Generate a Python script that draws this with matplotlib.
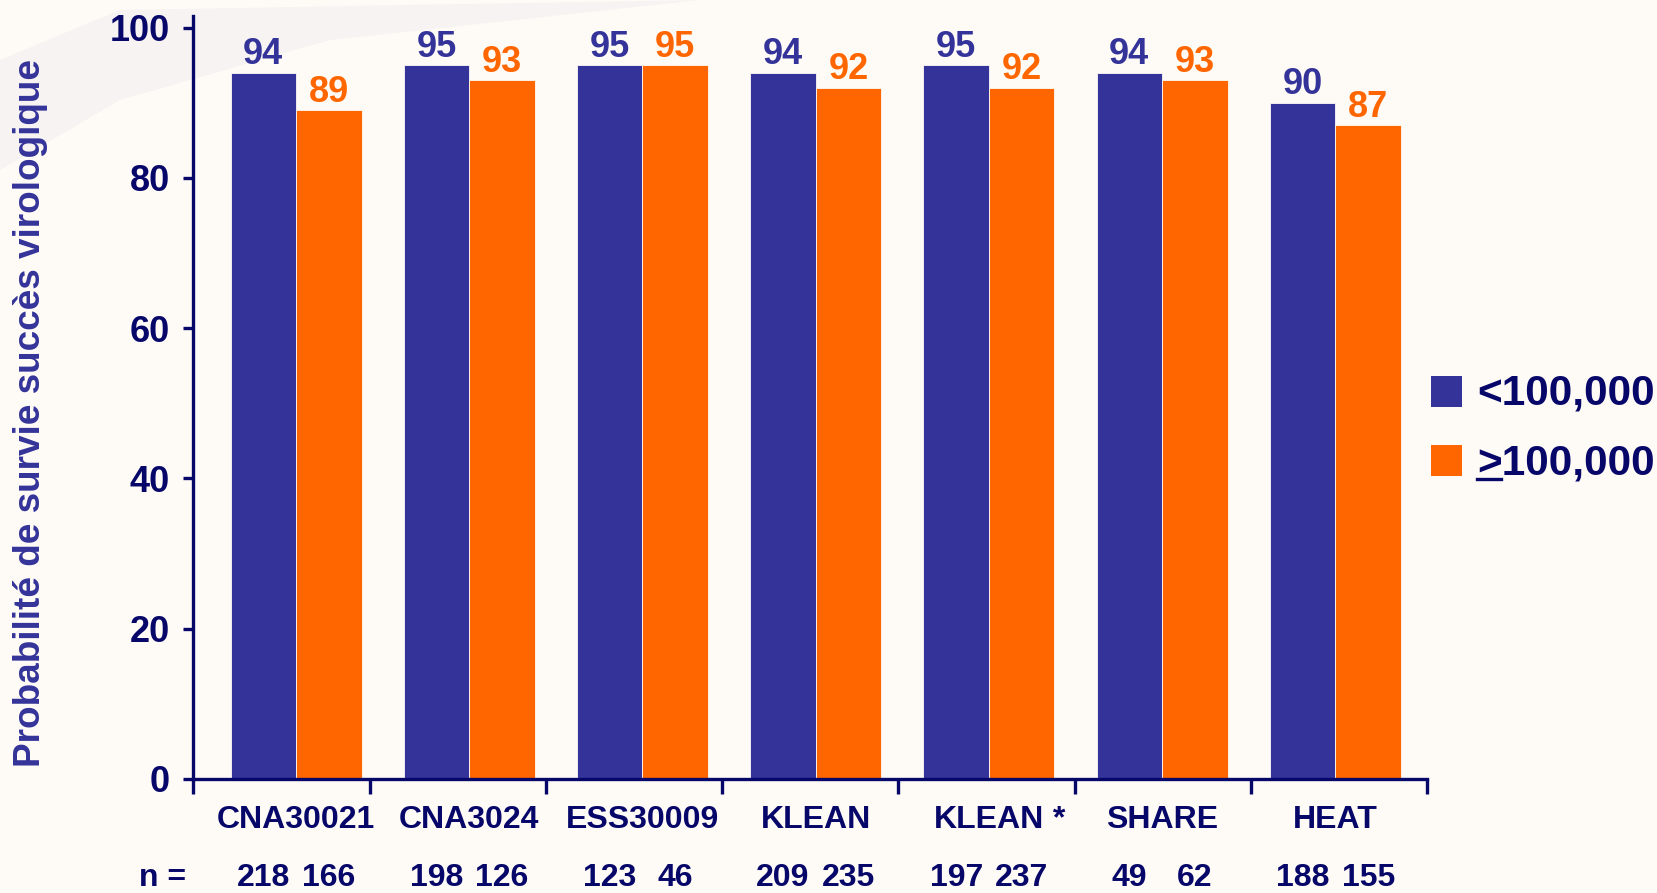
import numpy as np
import matplotlib
matplotlib.use("Agg")
import matplotlib.pyplot as plt
from matplotlib.patches import Rectangle, Polygon
from matplotlib.lines import Line2D
from matplotlib.transforms import blended_transform_factory

# --- data -------------------------------------------------------------
studies = ["CNA30021", "CNA3024", "ESS30009", "KLEAN", "KLEAN *", "SHARE", "HEAT"]
low_vl = [94, 95, 95, 94, 95, 94, 90]      # < 100,000 copies/mL
high_vl = [89, 93, 95, 92, 92, 93, 87]     # >= 100,000 copies/mL
n_low = [218, 198, 123, 209, 197, 49, 188]
n_high = [166, 126, 46, 235, 237, 62, 155]
legend_labels = ["<100,000", ">100,000"]
y_ticks = [0, 20, 40, 60, 80, 100]

# --- style ------------------------------------------------------------
BLUE = "#343399"
ORANGE = "#FF6600"
NAVY = "#07076A"
BG = "#FEFAF6"
FONT = "Liberation Sans"

W, H = 1658, 893
fig = plt.figure(figsize=(W / 100, H / 100), dpi=100, facecolor=BG)


def px(x, y):
    """pixel position measured from the top-left -> figure fraction"""
    return x / W, 1 - y / H


# faint decorative swoosh in the upper-left of the slide
swoosh = Polygon([px(0, 170), px(0, 60), px(120, 10), px(700, 0),
                  px(330, 40), px(120, 100)],
                 closed=True, transform=fig.transFigure,
                 facecolor="#F7F3F2", edgecolor="none", zorder=-10)
fig.patches.append(swoosh)

ax_left, ax_right = 193.5, 1427.0
y0_px, y100_px = 779.0, 27.5
ymax = 101.5
top_px = y0_px - (y0_px - y100_px) * ymax / 100
ax = fig.add_axes([ax_left / W, 1 - y0_px / H,
                   (ax_right - ax_left) / W, (y0_px - top_px) / H])
ax.set_facecolor("none")
ax.set_zorder(2)

n_groups = len(studies)
start, step, bw = 0.582, 0.983, 0.372
centers = start + step * np.arange(n_groups)

ax.bar(centers - bw / 2, low_vl, width=bw, color=BLUE,
       edgecolor=BG, linewidth=0.6, zorder=2)
ax.bar(centers + bw / 2, high_vl, width=bw, color=ORANGE,
       edgecolor=BG, linewidth=0.6, zorder=2)

for xc, v in zip(centers - bw / 2, low_vl):
    ax.annotate(f"{v}", (xc, v), xytext=(0, 6), textcoords="offset points",
                ha="center", va="baseline", color=BLUE, fontsize=26,
                fontweight="bold", family=FONT)
for xc, v in zip(centers + bw / 2, high_vl):
    ax.annotate(f"{v}", (xc, v), xytext=(0, 6), textcoords="offset points",
                ha="center", va="baseline", color=ORANGE, fontsize=26,
                fontweight="bold", family=FONT)

ax.set_xlim(0, n_groups)
ax.set_ylim(0, ymax)

for side in ("top", "right"):
    ax.spines[side].set_visible(False)
for side in ("left", "bottom"):
    ax.spines[side].set_color(NAVY)
    ax.spines[side].set_linewidth(2.4)

ax.set_yticks(y_ticks)
ax.set_yticklabels([str(t) for t in y_ticks])
ax.tick_params(axis="y", length=7, width=2.4, color=NAVY, pad=10,
               labelsize=26, labelcolor=NAVY)

# study names: the base name is centred under its group, a trailing
# footnote marker hangs to the right of it
base_names = [s.split(" *")[0] for s in studies]
ax.set_xticks(centers)
ax.set_xticklabels(base_names)
ax.set_xticks(np.arange(n_groups + 1), minor=True)
ax.tick_params(axis="x", which="major", length=0, pad=19,
               labelsize=23, labelcolor=NAVY)
ax.tick_params(axis="x", which="minor", length=11, width=2.4, color=NAVY)
for lab in ax.get_xticklabels() + ax.get_yticklabels():
    lab.set_fontweight("bold")
    lab.set_family(FONT)
for name, lab in zip(studies, ax.get_xticklabels()):
    if name.endswith(" *"):
        ax.annotate(" *", xy=(1, 0), xycoords=lab, ha="left", va="bottom",
                    fontsize=23, fontweight="bold", color=NAVY, family=FONT,
                    annotation_clip=False)

# y-axis title
fig.text(*px(31, 413), "Probabilité de survie succès virologique",
         rotation=90, ha="center", va="center", fontsize=26.6,
         fontweight="bold", color=BLUE, family=FONT)

# sample sizes under each bar
tr = blended_transform_factory(ax.transData, fig.transFigure)
n_y = px(0, 886)[1]
for xc, a, b in zip(centers, n_low, n_high):
    ax.text(xc - bw / 2, n_y, str(a), transform=tr, ha="center", va="baseline",
            fontsize=23, fontweight="bold", color=NAVY, family=FONT)
    ax.text(xc + bw / 2, n_y, str(b), transform=tr, ha="center", va="baseline",
            fontsize=23, fontweight="bold", color=NAVY, family=FONT)
fig.text(*px(139, 886), "n =", ha="left", va="baseline", fontsize=23,
         fontweight="bold", color=NAVY, family=FONT)

# legend
sq = 31
for (ytop, col, lab, base) in [(376, BLUE, legend_labels[0], 405),
                               (445, ORANGE, legend_labels[1], 474)]:
    fig.patches.append(Rectangle(px(1431, ytop + sq), sq / W, sq / H,
                                 transform=fig.transFigure, facecolor=col,
                                 edgecolor="none"))
    fig.text(*px(1477, base), lab, ha="left", va="baseline", fontsize=30.5,
             fontweight="bold", color=NAVY, family=FONT)
# underline under ">" turns it into "greater than or equal"
fig.lines.append(Line2D([px(1477, 0)[0], px(1501, 0)[0]],
                        [px(0, 478.5)[1]] * 2, transform=fig.transFigure,
                        color=NAVY, linewidth=2.4))

fig.savefig("out.png", dpi=100, facecolor=BG)
